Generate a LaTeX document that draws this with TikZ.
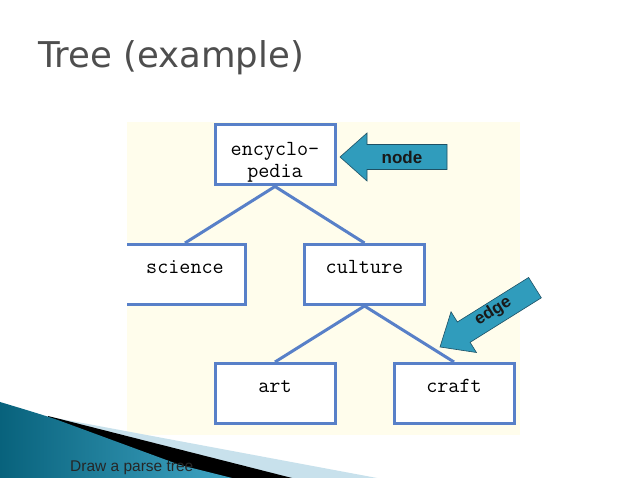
\documentclass[tikz,border=0pt]{standalone}
\usepackage{fontspec}
\setmainfont{Liberation Sans}
\newfontfamily\titlef{DejaVu Sans}
\definecolor{boxblue}{RGB}{88,128,200}
\definecolor{bgyellow}{RGB}{255,253,236}
\definecolor{callteal}{RGB}{48,156,188}
\definecolor{calldark}{RGB}{30,80,100}
\definecolor{titlegray}{RGB}{78,78,78}
\definecolor{decolight}{RGB}{200,225,236}
\definecolor{decodark}{RGB}{8,98,124}
\definecolor{decomid}{RGB}{64,165,196}
\newcommand{\boxtxt}[1]{\raisebox{1pt}[0pt][0pt]{#1}}
\tikzset{
  box/.style={draw=boxblue, line width=3pt, fill=white, inner sep=0pt,
    font=\ttfamily\fontsize{21.5}{22}\selectfont, align=center,
    minimum width=120pt, minimum height=60pt},
  link/.style={draw=boxblue, line width=3pt},
  callout/.style={fill=callteal, draw=calldark, line width=0.6pt, line join=miter},
  calltext/.style={font=\bfseries\fontsize{17}{20}\selectfont, text=black!90}
}
\begin{document}
\begin{tikzpicture}[x=1pt,y=-1pt]
\fill[white] (0,0) rectangle (638,478);
\useasboundingbox (0,0) rectangle (638,478);
% title
\node[anchor=base west, inner sep=0pt, font=\titlef\fontsize{35.5}{40}\selectfont, text=titlegray] (title) at (38,68) {Tree (example)};
% background panel
\fill[bgyellow] (127,122) rectangle (520,435);
\begin{scope}
\clip (127,122) rectangle (520,435);
\node[box] (enc) at (275,155) {\raisebox{-12pt}[0pt][0pt]{\begin{tabular}{@{}c@{}}encyclo-\\pedia\end{tabular}}};
\node[box] (sci) at (185,274.5) {\boxtxt{science}};
\node[box] (cul) at (364.5,274.5) {\boxtxt{culture}};
\node[box] (art) at (275,393.5) {\boxtxt{art}};
\node[box] (craft) at (454,393.5) {\boxtxt{craft}};
\draw[link] (enc.south) -- (sci.north);
\draw[link] (enc.south) -- (cul.north);
\draw[link] (cul.south) -- (art.north);
\draw[link] (cul.south) -- (craft.north);
\end{scope}
% "node" callout arrow
\draw[callout] (340,157) -- (367,133) -- (367,144.5) -- (447,144.5) -- (447,169.5) -- (367,169.5) -- (367,181) -- cycle;
\node[calltext] (nodelbl) at (402,157) {node};
% "edge" callout arrow
\begin{scope}[shift={(440,347)}, rotate=32]
\draw[callout] (0,0) -- (28,-24) -- (28,-12) -- (112,-12) -- (112,12) -- (28,12) -- (28,24) -- cycle;
\node[calltext, transform shape] (edgelbl) at (64,-2) {edge};
\end{scope}
% bottom-left decoration
\fill[decolight] (45,416) -- (377,478) -- (45,478) -- cycle;
\fill[black] (48,416) -- (292,478) -- (48,478) -- cycle;
\shade[left color=decodark, right color=decomid] (0,402) .. controls (20,408) and (40,414) .. (55,419) -- (180,465) -- (232,478) -- (0,478) -- cycle;
\node[anchor=base west, inner sep=0pt, font=\fontsize{15.5}{18}\selectfont, text=black!85] (caption) at (70,472) {Draw a parse tree};
\end{tikzpicture}
\end{document}
